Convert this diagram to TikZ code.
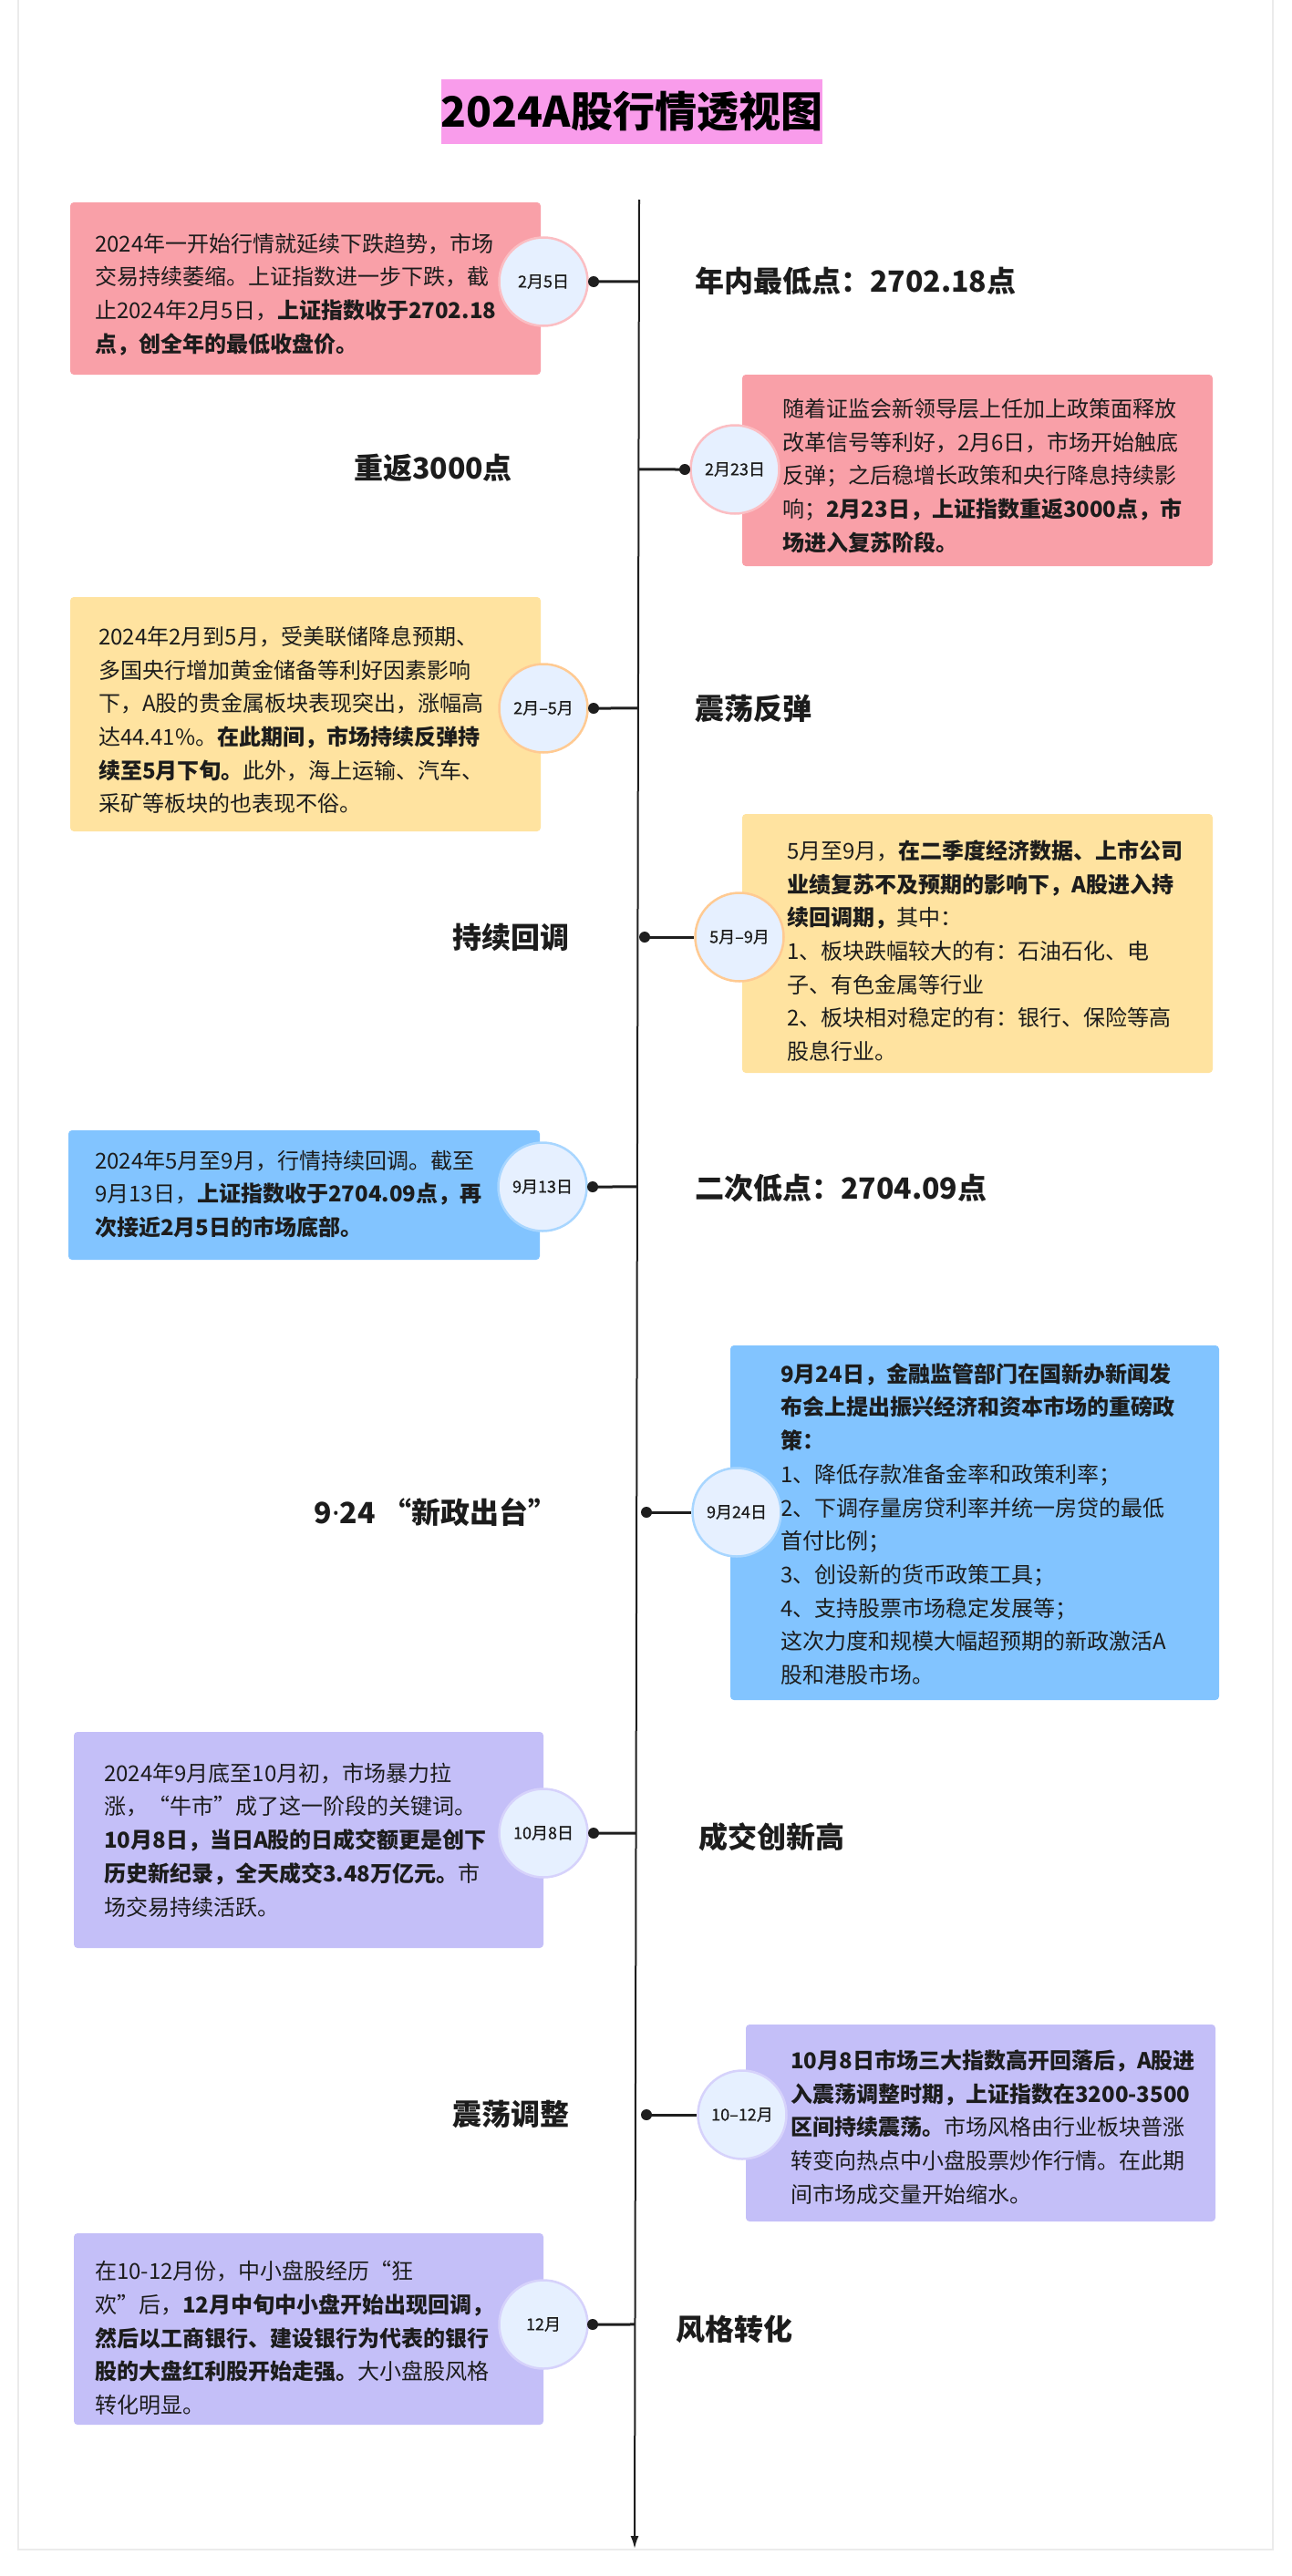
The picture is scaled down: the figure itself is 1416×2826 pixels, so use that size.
\documentclass[tikz,border=0pt]{standalone}
\usepackage{fontspec}
\setmainfont{Noto Sans CJK SC}
\newfontfamily\latinfont{Noto Sans}
\newfontfamily\circfont{Noto Sans CJK SC}[FakeBold=0.6]
\usetikzlibrary{calc,arrows.meta}
\definecolor{txt}{HTML}{1C1C1C}
\definecolor{lineC}{HTML}{1E1E1E}
\definecolor{pinkbox}{HTML}{F9A0A8}
\definecolor{pinkedge}{HTML}{FBBEC3}
\definecolor{yelbox}{HTML}{FFE3A0}
\definecolor{yeledge}{HTML}{FFCA92}
\definecolor{bluebox}{HTML}{82C4FF}
\definecolor{blueedge}{HTML}{A8D6FF}
\definecolor{purbox}{HTML}{C4BFF8}
\definecolor{puredge}{HTML}{D6D2FB}
\definecolor{cfill}{HTML}{E6F0FF}
\definecolor{titlebg}{HTML}{F99CEB}
\definecolor{frameC}{HTML}{EBEBEB}
\tikzset{
  cardbox/.style={rectangle, rounded corners=4pt, draw=none, inner sep=0pt},
  body/.style={anchor=west, align=left, inner sep=0pt, text=txt, font=\fontsize{24}{36.7}\selectfont},
  lbl/.style={inner sep=0pt, text=txt, font=\bfseries\fontsize{32}{38}\selectfont},
  datec/.style={circle, minimum size=97pt, inner sep=0pt, fill=cfill, line width=2.5pt, text=txt, font=\circfont\fontsize{18}{21}\selectfont},
  dotn/.style={circle, fill=lineC, minimum size=12pt, inner sep=0pt},
  conn/.style={line width=3pt, draw=lineC}
}
\begin{document}
\begin{tikzpicture}[x=1pt,y=-1pt]
\useasboundingbox (0,0) rectangle (1416,2826);
\fill[white] (0,0) rectangle (1416,2826);
% frame
\draw[frameC, line width=1.5pt] (20,0) -- (20,2797) -- (1396,2797) -- (1396,0);

% title
\node[fill=titlebg, minimum width=414pt, minimum height=71pt, inner sep=0pt, text=black, font=\bfseries\fontsize{46}{52}\selectfont] (title) at (693,122.5) {2024A股行情透视图};

% timeline
\coordinate (ttop) at (701,219);
\coordinate (tbot) at (696,2796);
\draw[line width=2pt, lineC, -{Latex[length=14pt,width=9pt]}] (ttop) -- (tbot);

% boxes
\node[cardbox, fill=pinkbox, minimum width=516pt, minimum height=189pt] (b1) at (335,316.5) {};
\node[cardbox, fill=pinkbox, minimum width=516pt, minimum height=210pt] (b2) at (1072,516) {};
\node[cardbox, fill=yelbox, minimum width=516pt, minimum height=257pt] (b3) at (335,783.5) {};
\node[cardbox, fill=yelbox, minimum width=516pt, minimum height=284pt] (b4) at (1072,1035) {};
\node[cardbox, fill=bluebox, minimum width=517pt, minimum height=142pt] (b5) at (333.5,1311) {};
\node[cardbox, fill=bluebox, minimum width=536pt, minimum height=389pt] (b6) at (1069,1670.5) {};
\node[cardbox, fill=purbox, minimum width=515pt, minimum height=237pt] (b7) at (338.5,2018.5) {};
\node[cardbox, fill=purbox, minimum width=515pt, minimum height=216pt] (b8) at (1075.5,2329) {};
\node[cardbox, fill=purbox, minimum width=515pt, minimum height=210pt] (b9) at (338.5,2555) {};

% body texts
\node[body] (t1) at (104,323) {2024年一开始行情就延续下跌趋势，市场\\交易持续萎缩。上证指数进一步下跌，截\\止2024年2月5日，\textbf{上证指数收于2702.18}\\\textbf{点，创全年的最低收盘价。}};
\node[body] (t2) at (858,522) {随着证监会新领导层上任加上政策面释放\\改革信号等利好，2月6日，市场开始触底\\反弹；之后稳增长政策和央行降息持续影\\响；\textbf{2月23日，上证指数重返3000点，市}\\\textbf{场进入复苏阶段。}};
\node[body] (t3) at (108,790) {2024年2月到5月，受美联储降息预期、\\多国央行增加黄金储备等利好因素影响\\下，A股的贵金属板块表现突出，涨幅高\\达44.41\%。\textbf{在此期间，市场持续反弹持}\\\textbf{续至5月下旬。}此外，海上运输、汽车、\\采矿等板块的也表现不俗。};
\node[body] (t4) at (863,1043) {5月至9月，\textbf{在二季度经济数据、上市公司}\\\textbf{业绩复苏不及预期的影响下，A股进入持}\\\textbf{续回调期，}其中：\\1、板块跌幅较大的有：石油石化、电\\子、有色金属等行业\\2、板块相对稳定的有：银行、保险等高\\股息行业。};
\node[body] (t5) at (104,1310) {2024年5月至9月，行情持续回调。截至\\9月13日，\textbf{上证指数收于2704.09点，再}\\\textbf{次接近2月5日的市场底部。}};
\node[body] (t6) at (856,1672) {\textbf{9月24日，金融监管部门在国新办新闻发}\\\textbf{布会上提出振兴经济和资本市场的重磅政}\\\textbf{策：}\\1、降低存款准备金率和政策利率；\\2、下调存量房贷利率并统一房贷的最低\\首付比例；\\3、创设新的货币政策工具；\\4、支持股票市场稳定发展等；\\这次力度和规模大幅超预期的新政激活A\\股和港股市场。};
\node[body] (t7) at (114,2018.5) {2024年9月底至10月初，市场暴力拉\\涨，“牛市”成了这一阶段的关键词。\\\textbf{10月8日，当日A股的日成交额更是创下}\\\textbf{历史新纪录，全天成交3.48万亿元。}市\\场交易持续活跃。};
\node[body] (t8) at (867,2333.5) {\textbf{10月8日市场三大指数高开回落后，A股进}\\\textbf{入震荡调整时期，上证指数在3200-3500}\\\textbf{区间持续震荡。}市场风格由行业板块普涨\\转变向热点中小盘股票炒作行情。在此期\\间市场成交量开始缩水。};
\node[body] (t9) at (104,2565) {在10-12月份，中小盘股经历“狂\\欢”后，\textbf{12月中旬中小盘开始出现回调，}\\\textbf{然后以工商银行、建设银行为代表的银行}\\\textbf{股的大盘红利股开始走强。}大小盘股风格\\转化明显。};

% date circles
\node[datec, draw=pinkedge] (c1) at (596,309) {2月5日};
\node[datec, draw=pinkedge] (c2) at (806,515) {2月23日};
\node[datec, draw=yeledge] (c3) at (596,777) {2月–5月};
\node[datec, draw=yeledge] (c4) at (811,1028) {5月–9月};
\node[datec, draw=blueedge] (c5) at (595,1302) {9月13日};
\node[datec, draw=blueedge] (c6) at (808,1659) {9月24日};
\node[datec, draw=puredge] (c7) at (596,2011) {10月8日};
\node[datec, draw=puredge] (c8) at (814,2320) {10–12月};
\node[datec, draw=puredge] (c9) at (596,2550) {12月};

% points on the timeline
\coordinate (p1) at ($(ttop)!{(309-219)/2577}!(tbot)$);
\coordinate (p2) at ($(ttop)!{(515-219)/2577}!(tbot)$);
\coordinate (p3) at ($(ttop)!{(777-219)/2577}!(tbot)$);
\coordinate (p5) at ($(ttop)!{(1302-219)/2577}!(tbot)$);
\coordinate (p7) at ($(ttop)!{(2011-219)/2577}!(tbot)$);
\coordinate (p9) at ($(ttop)!{(2550-219)/2577}!(tbot)$);

% dots
\node[dotn] (d1) at (651,309) {};
\node[dotn] (d2) at (751,515) {};
\node[dotn] (d3) at (651,777) {};
\node[dotn] (d4) at (707,1028) {};
\node[dotn] (d5) at (650,1302) {};
\node[dotn] (d6) at (709,1659) {};
\node[dotn] (d7) at (651,2011) {};
\node[dotn] (d8) at (709,2320) {};
\node[dotn] (d9) at (650,2550) {};

% connectors
\draw[conn] (d1.center) -- (p1);
\draw[conn] (p2) -- (d2.center);
\draw[conn] (d3.center) -- (p3);
\draw[conn] (d4.center) -- (c4.west);
\draw[conn] (d5.center) -- (p5);
\draw[conn] (d6.center) -- (c6.west);
\draw[conn] (d7.center) -- (p7);
\draw[conn] (d8.center) -- (c8.west);
\draw[conn] (d9.center) -- (p9);

% stage labels
\node[lbl, anchor=west] (l1) at (762,308) {年内最低点：2702.18点};
\node[lbl] (l2) at (475,513) {重返3000点};
\node[lbl, anchor=west] (l3) at (762,777) {震荡反弹};
\node[lbl] (l4) at (560,1028) {持续回调};
\node[lbl, anchor=west] (l5) at (762,1303) {二次低点：2704.09点};
\node[lbl] (l6) at (478,1659) {9{\latinfont\bfseries ·}24 “新政出台”};
\node[lbl, anchor=west] (l7) at (766,2015) {成交创新高};
\node[lbl] (l8) at (560,2320) {震荡调整};
\node[lbl, anchor=west] (l9) at (741,2555) {风格转化};
\end{tikzpicture}
\end{document}
